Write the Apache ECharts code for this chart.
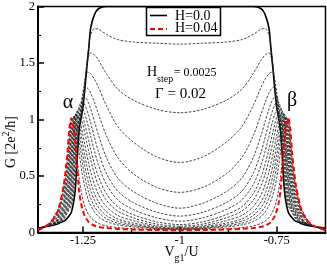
<!DOCTYPE html>
<html><head><meta charset="utf-8">
<script src="https://cdn.jsdelivr.net/npm/echarts@6/dist/echarts.min.js"></script>
<style>html,body{margin:0;padding:0;background:#fff}#main{width:327px;height:267px}</style>
</head><body><div id="main"></div>
<script>
// gate voltage grid V_g1/U
const vg1 = [-1.366, -1.34, -1.32, -1.31, -1.30, -1.295, -1.29, -1.285, -1.28, -1.275, -1.27, -1.265, -1.26, -1.255, -1.25, -1.245, -1.24, -1.235, -1.23, -1.22, -1.21, -1.19, -1.16, -1.12, -1.06, -1.0,
  -0.94, -0.88, -0.84, -0.81, -0.79, -0.78, -0.77, -0.765, -0.76, -0.755, -0.75, -0.745, -0.74, -0.735, -0.73, -0.725, -0.72, -0.715, -0.71, -0.705, -0.70, -0.69, -0.68, -0.66, -0.624];
// magnetic field values (H step 0.0025)
const hValues = ['0.0', '0.0025', '0.005', '0.0075', '0.01', '0.0125', '0.015', '0.0175', '0.02', '0.0225', '0.025', '0.0275', '0.03', '0.0325', '0.035', '0.0375', '0.04'];
// conductance G [2e^2/h] for each H
const g00 = [0.04, 0.055, 0.07, 0.085, 0.10, 0.11, 0.13, 0.15, 0.18, 0.25, 0.37, 0.64, 0.90, 1.01, 1.11, 1.27, 1.46, 1.63, 1.81, 1.93, 1.98, 2.0, 2.0, 2.0, 2.0, 2.0,
  2.0, 2.0, 2.0, 2.0, 1.98, 1.93, 1.81, 1.63, 1.46, 1.27, 1.11, 1.01, 0.90, 0.64, 0.37, 0.25, 0.18, 0.15, 0.13, 0.11, 0.10, 0.085, 0.07, 0.055, 0.04];
const g01 = [0.039, 0.056, 0.079, 0.091, 0.113, 0.143, 0.173, 0.203, 0.233, 0.324, 0.495, 0.755, 0.937, 1.028, 1.139, 1.304, 1.49, 1.65, 1.75, 1.805, 1.80, 1.755, 1.707, 1.686, 1.675, 1.667,
  1.675, 1.686, 1.707, 1.755, 1.80, 1.805, 1.75, 1.65, 1.49, 1.304, 1.139, 1.028, 0.937, 0.755, 0.495, 0.324, 0.233, 0.203, 0.173, 0.143, 0.113, 0.091, 0.079, 0.056, 0.039];
const g02 = [0.0375, 0.057, 0.08, 0.09, 0.125, 0.156, 0.187, 0.217, 0.246, 0.391, 0.58, 0.83, 0.956, 1.04, 1.158, 1.327, 1.49, 1.56, 1.59, 1.57, 1.526, 1.409, 1.268, 1.171, 1.09, 1.06,
  1.09, 1.171, 1.268, 1.409, 1.526, 1.57, 1.59, 1.56, 1.49, 1.327, 1.158, 1.04, 0.956, 0.83, 0.58, 0.391, 0.246, 0.217, 0.187, 0.156, 0.125, 0.09, 0.08, 0.057, 0.0375];
const g03 = [0.036, 0.058, 0.083, 0.095, 0.138, 0.169, 0.199, 0.23, 0.298, 0.449, 0.665, 0.903, 0.977, 1.066, 1.20, 1.36, 1.42, 1.417, 1.405, 1.356, 1.286, 1.127, 0.937, 0.80, 0.67, 0.62,
  0.67, 0.80, 0.937, 1.127, 1.286, 1.356, 1.405, 1.417, 1.42, 1.36, 1.20, 1.066, 0.977, 0.903, 0.665, 0.449, 0.298, 0.23, 0.199, 0.169, 0.138, 0.095, 0.083, 0.058, 0.036];
const g04 = [0.035, 0.059, 0.085, 0.098, 0.151, 0.181, 0.212, 0.243, 0.36, 0.505, 0.744, 0.927, 1.002, 1.10, 1.24, 1.29, 1.283, 1.265, 1.235, 1.15, 1.051, 0.86, 0.663, 0.52, 0.40, 0.355,
  0.40, 0.52, 0.663, 0.86, 1.051, 1.15, 1.235, 1.265, 1.283, 1.29, 1.24, 1.10, 1.002, 0.927, 0.744, 0.505, 0.36, 0.243, 0.212, 0.181, 0.151, 0.098, 0.085, 0.059, 0.035];
const g05 = [0.034, 0.060, 0.087, 0.10, 0.163, 0.194, 0.225, 0.275, 0.414, 0.586, 0.82, 0.95, 1.03, 1.13, 1.21, 1.202, 1.178, 1.141, 1.093, 0.98, 0.864, 0.667, 0.482, 0.362, 0.26, 0.215,
  0.26, 0.362, 0.482, 0.667, 0.864, 0.98, 1.093, 1.141, 1.178, 1.202, 1.21, 1.13, 1.03, 0.95, 0.82, 0.586, 0.414, 0.275, 0.225, 0.194, 0.163, 0.10, 0.087, 0.060, 0.034];
const g06 = [0.0325, 0.061, 0.089, 0.115, 0.176, 0.207, 0.238, 0.33, 0.465, 0.66, 0.895, 1.0, 1.09, 1.155, 1.153, 1.128, 1.086, 1.032, 0.969, 0.838, 0.715, 0.527, 0.365, 0.265, 0.18, 0.145,
  0.18, 0.265, 0.365, 0.527, 0.715, 0.838, 0.969, 1.032, 1.086, 1.128, 1.153, 1.155, 1.09, 1.0, 0.895, 0.66, 0.465, 0.33, 0.238, 0.207, 0.176, 0.115, 0.089, 0.061, 0.0325];
const g07 = [0.031, 0.062, 0.092, 0.127, 0.19, 0.22, 0.258, 0.385, 0.52, 0.73, 0.96, 1.05, 1.11, 1.117, 1.091, 1.047, 0.989, 0.923, 0.852, 0.716, 0.598, 0.428, 0.288, 0.203, 0.13, 0.10,
  0.13, 0.203, 0.288, 0.428, 0.598, 0.716, 0.852, 0.923, 0.989, 1.047, 1.091, 1.117, 1.11, 1.05, 0.96, 0.73, 0.52, 0.385, 0.258, 0.22, 0.19, 0.127, 0.092, 0.062, 0.031];
const g08 = [0.03, 0.0625, 0.094, 0.14, 0.203, 0.234, 0.311, 0.434, 0.592, 0.806, 0.98, 1.07, 1.089, 1.065, 1.019, 0.957, 0.886, 0.811, 0.736, 0.603, 0.494, 0.346, 0.228, 0.158, 0.095, 0.07,
  0.095, 0.158, 0.228, 0.346, 0.494, 0.603, 0.736, 0.811, 0.886, 0.957, 1.019, 1.065, 1.089, 1.07, 0.98, 0.806, 0.592, 0.434, 0.311, 0.234, 0.203, 0.14, 0.094, 0.0625, 0.03];
const g09 = [0.029, 0.063, 0.097, 0.154, 0.217, 0.257, 0.36, 0.478, 0.654, 0.88, 1.02, 1.07, 1.055, 1.013, 0.95, 0.875, 0.795, 0.716, 0.642, 0.516, 0.417, 0.288, 0.189, 0.13, 0.075, 0.056,
  0.075, 0.13, 0.189, 0.288, 0.417, 0.516, 0.642, 0.716, 0.795, 0.875, 0.95, 1.013, 1.055, 1.07, 1.02, 0.88, 0.654, 0.478, 0.36, 0.257, 0.217, 0.154, 0.097, 0.063, 0.029];
const g10 = [0.0275, 0.064, 0.10, 0.167, 0.23, 0.293, 0.405, 0.53, 0.72, 0.93, 1.045, 1.048, 1.01, 0.944, 0.861, 0.773, 0.687, 0.607, 0.537, 0.422, 0.337, 0.231, 0.151, 0.105, 0.06, 0.046,
  0.06, 0.105, 0.151, 0.231, 0.337, 0.422, 0.537, 0.607, 0.687, 0.773, 0.861, 0.944, 1.01, 1.048, 1.045, 0.93, 0.72, 0.53, 0.405, 0.293, 0.23, 0.167, 0.10, 0.064, 0.0275];
const g11 = [0.026, 0.065, 0.117, 0.181, 0.244, 0.34, 0.448, 0.593, 0.793, 0.98, 1.045, 1.023, 0.96, 0.873, 0.774, 0.677, 0.59, 0.512, 0.446, 0.343, 0.272, 0.184, 0.12, 0.084, 0.05, 0.039,
  0.05, 0.084, 0.12, 0.184, 0.272, 0.343, 0.446, 0.512, 0.59, 0.677, 0.774, 0.873, 0.96, 1.023, 1.045, 0.98, 0.793, 0.593, 0.448, 0.34, 0.244, 0.181, 0.117, 0.065, 0.026];
const g12 = [0.025, 0.066, 0.13, 0.195, 0.277, 0.382, 0.487, 0.652, 0.867, 1.015, 1.03, 0.981, 0.895, 0.79, 0.683, 0.585, 0.501, 0.43, 0.371, 0.283, 0.223, 0.151, 0.10, 0.07, 0.043, 0.034,
  0.043, 0.07, 0.10, 0.151, 0.223, 0.283, 0.371, 0.43, 0.501, 0.585, 0.683, 0.79, 0.895, 0.981, 1.03, 1.015, 0.867, 0.652, 0.487, 0.382, 0.277, 0.195, 0.13, 0.066, 0.025];
const g13 = [0.024, 0.067, 0.144, 0.208, 0.32, 0.422, 0.54, 0.71, 0.93, 1.025, 1.007, 0.929, 0.817, 0.698, 0.588, 0.493, 0.416, 0.353, 0.302, 0.229, 0.18, 0.123, 0.082, 0.059, 0.038, 0.03,
  0.038, 0.059, 0.082, 0.123, 0.18, 0.229, 0.302, 0.353, 0.416, 0.493, 0.588, 0.698, 0.817, 0.929, 1.007, 1.025, 0.93, 0.71, 0.54, 0.422, 0.32, 0.208, 0.144, 0.067, 0.024];
const g14 = [0.0225, 0.068, 0.157, 0.221, 0.36, 0.458, 0.595, 0.782, 0.97, 1.02, 0.961, 0.847, 0.714, 0.589, 0.483, 0.399, 0.332, 0.28, 0.239, 0.18, 0.142, 0.098, 0.067, 0.049, 0.034, 0.027,
  0.034, 0.049, 0.067, 0.098, 0.142, 0.18, 0.239, 0.28, 0.332, 0.399, 0.483, 0.589, 0.714, 0.847, 0.961, 1.02, 0.97, 0.782, 0.595, 0.458, 0.36, 0.221, 0.157, 0.068, 0.0225];
const g15 = [0.021, 0.069, 0.171, 0.235, 0.399, 0.495, 0.65, 0.85, 1.0, 0.985, 0.837, 0.649, 0.491, 0.373, 0.29, 0.23, 0.188, 0.157, 0.133, 0.101, 0.081, 0.058, 0.043, 0.033, 0.026, 0.023,
  0.026, 0.033, 0.043, 0.058, 0.081, 0.101, 0.133, 0.157, 0.188, 0.23, 0.29, 0.373, 0.491, 0.649, 0.837, 0.985, 1.0, 0.85, 0.65, 0.495, 0.399, 0.235, 0.171, 0.069, 0.021];
const g16 = [0.02, 0.07, 0.15, 0.25, 0.41, 0.54, 0.70, 0.92, 1.01, 0.95, 0.80, 0.58, 0.37, 0.26, 0.19, 0.145, 0.115, 0.092, 0.078, 0.06, 0.05, 0.04, 0.032, 0.026, 0.022, 0.02,
  0.022, 0.026, 0.032, 0.04, 0.05, 0.06, 0.078, 0.092, 0.115, 0.145, 0.19, 0.26, 0.37, 0.58, 0.80, 0.95, 1.01, 0.92, 0.70, 0.54, 0.41, 0.25, 0.15, 0.07, 0.02];
const curves = [g00, g01, g02, g03, g04, g05, g06, g07, g08, g09, g10, g11, g12, g13, g14, g15, g16];
// axis ticks
const xMajorTicks = [-1.25, -1, -0.75];
const xMinorTicks = [-1.125, -0.875];
const yTicks = [0, 0.5, 1, 1.5, 2];

const SERIF = "'Liberation Serif', 'DejaVu Serif', serif";
const cv = document.createElement('canvas').getContext('2d');
function tw(s, size) { cv.font = size + 'px ' + SERIF; return cv.measureText(s).width; }

const chart = echarts.init(document.getElementById('main'), null, {renderer: 'canvas'});

const series = curves.map((arr, k) => {
  let ls;
  if (k === 0) ls = {color: '#000', width: 1.6, type: 'solid'};
  else if (k === curves.length - 1) ls = {color: '#ff0000', width: 2, type: [5, 3]};
  else ls = {color: '#262626', width: 0.85, type: [2.5, 1.5]};
  return {
    type: 'line', name: 'H=' + hValues[k], xAxisIndex: 0, yAxisIndex: 0,
    data: vg1.map((x, i) => [x, arr[i]]),
    symbol: 'none', showSymbol: false, smooth: 0.3, lineStyle: ls,
    silent: true, z: 2
  };
});

function t(text, x, y, size, extra) {
  return Object.assign({type: 'text', x: x, y: y, z: 120, style: {
    text: text, fontSize: size, fontFamily: SERIF, fill: '#000',
    textAlign: 'left', align: 'left', textVerticalAlign: 'middle', verticalAlign: 'middle'}}, extra || {});
}

// y-axis title pieces (rotated)
const yA = 'G [2e', yS = '2', yB = '/h]';
const yFs = 14, ySs = 10;
const yW = tw(yA, yFs) + tw(yS, ySs) + tw(yB, yFs);
let yx0 = -yW / 2;
const yTitle = {type: 'group', x: 11.5, y: 142, rotation: Math.PI / 2, z: 120, children: [
  t(yA, yx0, 0, yFs),
  t(yS, yx0 + tw(yA, yFs), -5, ySs),
  t(yB, yx0 + tw(yA, yFs) + tw(yS, ySs), 0, yFs)
]};
// x-axis title pieces
const xFs = 14, xSs = 10;
const xW = tw('V', xFs) + tw('g1', xSs) + tw('/U', xFs);
const xx0 = 181.5 - xW / 2;
const xTitle = [
  t('V', xx0, 252.5, xFs),
  t('g1', xx0 + tw('V', xFs), 258, xSs),
  t('/U', xx0 + tw('V', xFs) + tw('g1', xSs), 252.5, xFs)
];
// H_step annotation
const hx = 147;
const hStep = [
  t('H', hx, 72, 14),
  t('step', hx + tw('H', 14), 79.5, 10),
  t('= 0.0025', hx + tw('H', 14) + tw('step', 10) + 0.5, 72.5, 12)
];

chart.setOption({
  animation: false,
  backgroundColor: '#fff',
  grid: {left: 38, right: 1.5, top: 5, bottom: 34.5, show: true, borderColor: '#000', borderWidth: 1.5, backgroundColor: 'transparent'},
  xAxis: [{
    type: 'value', min: -1.366, max: -0.624, position: 'bottom',
    axisLine: {show: true, onZero: false, lineStyle: {color: '#000', width: 2}},
    axisTick: {show: true, inside: true, length: 6, customValues: xMajorTicks, lineStyle: {color: '#000', width: 1.5}},
    axisLabel: {show: true, customValues: xMajorTicks, margin: 2, fontSize: 12.5, fontFamily: SERIF, color: '#000'},
    splitLine: {show: false}
  }, {
    type: 'value', min: -1.366, max: -0.624, position: 'bottom', offset: 0,
    axisLine: {show: false},
    axisTick: {show: true, inside: true, length: 3, customValues: xMinorTicks, lineStyle: {color: '#000', width: 1.2}},
    axisLabel: {show: false},
    splitLine: {show: false}
  }],
  yAxis: [{
    type: 'value', min: 0, max: 2, interval: 0.5,
    axisLine: {show: true, onZero: false, lineStyle: {color: '#000', width: 2}},
    axisTick: {show: true, inside: true, length: 6, lineStyle: {color: '#000', width: 1.5}},
    minorTick: {show: true, splitNumber: 2, length: 3, lineStyle: {color: '#000', width: 1.2}},
    axisLabel: {show: true, margin: 3, fontSize: 12.5, fontFamily: SERIF, color: '#000'},
    splitLine: {show: false}, minorSplitLine: {show: false}
  }],
  series: series,
  graphic: [
    {type: 'rect', z: 110, shape: {x: 146.5, y: 7.5, width: 74, height: 28}, style: {fill: '#fff', stroke: '#000', lineWidth: 1.5}},
    {type: 'line', z: 115, shape: {x1: 150, y1: 15.5, x2: 167, y2: 15.5}, style: {stroke: '#000', lineWidth: 1.6}},
    {type: 'line', z: 115, shape: {x1: 150, y1: 29, x2: 167, y2: 29}, style: {stroke: '#ff0000', lineWidth: 2, lineDash: [5, 3]}},
    t('H=' + hValues[0], 175, 16.2, 14),
    t('H=' + hValues[16], 175, 28.3, 14),
    ...hStep,
    t('\u0393 = 0.02', 155, 94, 15),
    t('\u03b1', 68, 102.6, 20, {style: {text: '\u03b1', fontSize: 20, fontFamily: SERIF, fill: '#000', textAlign: 'center', align: 'center', textVerticalAlign: 'middle', verticalAlign: 'middle'}}),
    t('\u03b2', 292, 101, 20, {style: {text: '\u03b2', fontSize: 20, fontFamily: SERIF, fill: '#000', textAlign: 'center', align: 'center', textVerticalAlign: 'middle', verticalAlign: 'middle'}}),
    ...xTitle,
    yTitle
  ]
});
</script></body></html>
